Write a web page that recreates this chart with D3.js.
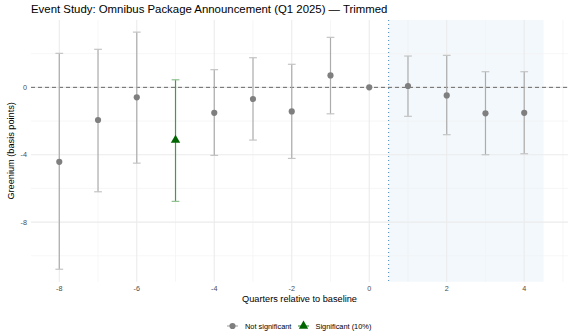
<!DOCTYPE html>
<html>
<head>
<meta charset="utf-8">
<script src="https://cdn.jsdelivr.net/npm/d3@7"></script>
<style>
  body { margin: 0; background: #fff; }
  svg { display: block; font-family: "Liberation Sans", Arial, sans-serif; }
</style>
</head>
<body>
<svg id="chart" width="568" height="336"></svg>
<script>
// event-study estimates
const quarters = [-8, -7, -6, -5, -4, -3, -2, -1, 0, 1, 2, 3, 4];
const estimates = [-4.42, -1.94, -0.59, -3.13, -1.51, -0.69, -1.43, 0.71, 0, 0.08, -0.48, -1.54, -1.51];
const ciLow = [-10.8, -6.2, -4.5, -6.77, -4.04, -3.13, -4.22, -1.57, null, -1.72, -2.81, -4.0, -3.94];
const ciHigh = [2.02, 2.26, 3.28, 0.45, 1.05, 1.76, 1.37, 2.97, null, 1.86, 1.9, 0.93, 0.93];
const significant = [false, false, false, true, false, false, false, false, false, false, false, false, false];
const xTicks = [-8, -6, -4, -2, 0, 2, 4];
const xMinor = [-7, -5, -3, -1, 1, 3, 5];
const yTicks = [-8, -4, 0];
const yMinor = [-10, -6, -2, 2];
const postWindow = [0.5, 4.5];

const data = quarters.map((q, i) => ({
    q: q, est: estimates[i], lo: ciLow[i], hi: ciHigh[i], sig: significant[i]
}));

const margin = {top: 20, right: 0, bottom: 54.3, left: 31};
const W = 568, H = 336;
const width = W - margin.left - margin.right;
const height = H - margin.top - margin.bottom;

const svg = d3.select("#chart");
const g = svg.append("g").attr("transform", `translate(${margin.left},${margin.top})`);

const x = d3.scaleLinear().domain([-8.73, 5.13]).range([0, width]);
const y = d3.scaleLinear().domain([-11.54, 4.0]).range([height, 0]);

// post-announcement shading
g.append("rect")
    .attr("x", x(postWindow[0]))
    .attr("width", x(postWindow[1]) - x(postWindow[0]))
    .attr("y", 0)
    .attr("height", height)
    .attr("fill", "#f3f8fc");

// grid
g.selectAll(".xminor").data(xMinor).join("line")
    .attr("x1", d => x(d)).attr("x2", d => x(d))
    .attr("y1", 0).attr("y2", height)
    .attr("stroke", "#f0f0f0").attr("stroke-width", 0.6);
g.selectAll(".yminor").data(yMinor).join("line")
    .attr("y1", d => y(d)).attr("y2", d => y(d))
    .attr("x1", 0).attr("x2", width)
    .attr("stroke", "#f0f0f0").attr("stroke-width", 0.6);
g.selectAll(".xmajor").data(xTicks).join("line")
    .attr("x1", d => x(d)).attr("x2", d => x(d))
    .attr("y1", 0).attr("y2", height)
    .attr("stroke", "#ebebeb").attr("stroke-width", 1.1);
g.selectAll(".ymajor").data(yTicks).join("line")
    .attr("y1", d => y(d)).attr("y2", d => y(d))
    .attr("x1", 0).attr("x2", width)
    .attr("stroke", "#ebebeb").attr("stroke-width", 1.1);

// reference lines
g.append("line")
    .attr("x1", 0).attr("x2", width)
    .attr("y1", y(0)).attr("y2", y(0))
    .attr("stroke", "#595959").attr("stroke-width", 0.9)
    .attr("stroke-dasharray", "4,3");
g.append("line")
    .attr("x1", x(postWindow[0])).attr("x2", x(postWindow[0]))
    .attr("y1", 0).attr("y2", height)
    .attr("stroke", "#4f8fc4").attr("stroke-width", 1.1)
    .attr("stroke-dasharray", "1,3");

// error bars
const capHalf = (x(0.1) - x(0));
const bars = g.selectAll(".err").data(data.filter(d => d.lo !== null)).join("g");
const barColor = d => d.sig ? "#4c944c" : "#acacac";
bars.append("line")
    .attr("x1", d => x(d.q)).attr("x2", d => x(d.q))
    .attr("y1", d => y(d.lo)).attr("y2", d => y(d.hi))
    .attr("stroke", barColor).attr("stroke-width", 1.2);
["lo", "hi"].forEach(k => {
    bars.append("line")
        .attr("x1", d => x(d.q) - capHalf).attr("x2", d => x(d.q) + capHalf)
        .attr("y1", d => y(d[k])).attr("y2", d => y(d[k]))
        .attr("stroke", d => d.sig ? "#8fc08f" : "#c4c4c4").attr("stroke-width", 1.2);
});

// points
const tri = d3.symbol().type(d3.symbolTriangle).size(38);
g.selectAll(".pt").data(data).join("path")
    .attr("transform", d => `translate(${x(d.q)},${y(d.est)})`)
    .attr("d", d => d.sig ? tri() : d3.symbol().type(d3.symbolCircle).size(30)())
    .attr("fill", d => d.sig ? "#006400" : "#7f7f7f");

// axis tick labels
g.selectAll(".xl").data(xTicks).join("text")
    .attr("x", d => x(d)).attr("y", height + 9.5)
    .attr("text-anchor", "middle")
    .attr("font-size", 7.2).attr("fill", "#4d4d4d")
    .text(d => d);
g.selectAll(".yl").data(yTicks).join("text")
    .attr("x", -4).attr("y", d => y(d) + 2.5)
    .attr("text-anchor", "end")
    .attr("font-size", 7.2).attr("fill", "#4d4d4d")
    .text(d => d);

// axis titles
svg.append("text")
    .attr("x", margin.left + width / 2).attr("y", 302)
    .attr("text-anchor", "middle").attr("font-size", 9.2).attr("fill", "#000")
    .text("Quarters relative to baseline");
svg.append("text")
    .attr("transform", `translate(14,${margin.top + height / 2}) rotate(-90)`)
    .attr("text-anchor", "middle").attr("font-size", 9.2).attr("fill", "#000")
    .text("Greenium (basis points)");

// title
svg.append("text")
    .attr("x", 31).attr("y", 13)
    .attr("font-size", 11.4).attr("fill", "#000")
    .text("Event Study: Omnibus Package Announcement (Q1 2025) \u2014 Trimmed");

// legend
const legend = svg.append("g").attr("transform", "translate(0,326)");
legend.append("line").attr("x1", 227).attr("x2", 238).attr("stroke", "#acacac").attr("stroke-width", 1.2);
legend.append("path").attr("transform", "translate(232.5,0)")
    .attr("d", d3.symbol().type(d3.symbolCircle).size(30)()).attr("fill", "#7f7f7f");
legend.append("text").attr("x", 245).attr("y", 2.5).attr("font-size", 7.4).attr("fill", "#000")
    .text("Not significant");
legend.append("line").attr("x1", 298).attr("x2", 309).attr("stroke", "#4c944c").attr("stroke-width", 1.2);
legend.append("path").attr("transform", "translate(303.5,0)")
    .attr("d", tri()).attr("fill", "#006400");
legend.append("text").attr("x", 315.5).attr("y", 2.5).attr("font-size", 7.4).attr("fill", "#000")
    .text("Significant (10%)");
</script>
</body>
</html>
